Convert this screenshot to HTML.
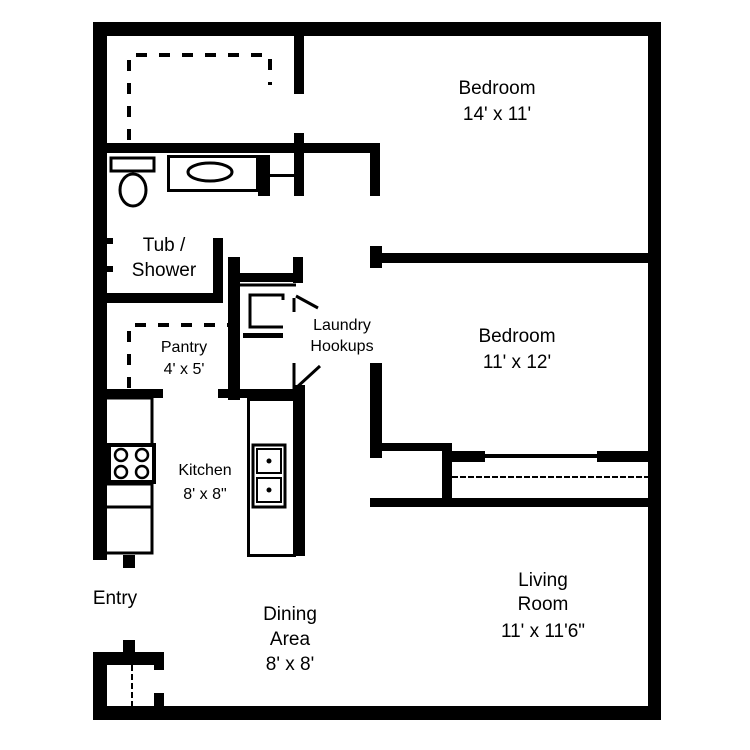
<!DOCTYPE html>
<html><head><meta charset="utf-8"><style>
html,body{margin:0;padding:0;background:#fff}
svg{display:block}
text{font-family:"Liberation Sans",sans-serif;fill:#000;text-anchor:middle}
</style></head><body>
<svg width="750" height="750" viewBox="0 0 750 750" xmlns="http://www.w3.org/2000/svg">
<g fill="#000">
<rect x="93" y="22" width="568" height="14"/>
<rect x="93" y="22" width="14" height="538"/>
<rect x="123" y="555" width="12" height="13"/>
<rect x="648" y="22" width="13" height="698"/>
<rect x="93" y="706" width="568" height="14"/>
<rect x="93" y="652" width="14" height="68"/>
<rect x="93" y="652" width="70" height="13"/>
<rect x="123" y="640" width="12" height="14"/>
<rect x="154" y="652" width="10" height="18"/>
<rect x="154" y="693" width="10" height="15"/>
<rect x="294" y="35" width="10" height="59"/>
<rect x="294" y="133" width="10" height="63"/>
<rect x="107" y="143" width="273" height="10"/>
<rect x="370" y="143" width="10" height="53"/>
<rect x="258" y="155" width="12" height="41"/>
<rect x="270" y="174" width="24" height="3"/>
<rect x="107" y="238" width="6" height="6"/>
<rect x="107" y="266" width="6" height="6"/>
<rect x="213" y="238" width="10" height="62"/>
<rect x="107" y="293" width="116" height="10"/>
<rect x="228" y="257" width="12" height="143"/>
<rect x="233" y="273" width="70" height="9"/>
<rect x="293" y="257" width="10" height="26"/>
<rect x="243" y="333" width="40" height="5"/>
<rect x="107" y="389" width="56" height="9"/>
<rect x="218" y="389" width="87" height="9"/>
<rect x="295" y="385" width="10" height="171"/>
<rect x="370" y="246" width="12" height="22"/>
<rect x="382" y="253" width="268" height="10"/>
<rect x="370" y="363" width="12" height="95"/>
<rect x="380" y="443" width="70" height="8"/>
<rect x="442" y="443" width="10" height="57"/>
<rect x="370" y="498" width="280" height="9"/>
<rect x="452" y="451" width="33" height="11"/>
<rect x="597" y="451" width="53" height="11"/>
<rect x="485" y="454" width="112" height="4"/>
</g>
<g fill="none" stroke="#000">
<path d="M129 140V55H270V85" stroke-width="4" stroke-dasharray="11 12"/>
<rect x="168.5" y="156.5" width="89" height="34" stroke-width="3"/>
<ellipse cx="210" cy="172" rx="22" ry="9" stroke-width="3"/>
<rect x="111" y="158" width="43" height="13" stroke-width="3"/>
<ellipse cx="133" cy="190" rx="13" ry="16" stroke-width="3"/>
<path d="M129 388V325H228" stroke-width="4" stroke-dasharray="11 12"/>
<path d="M283 300V295H250V327H283" stroke-width="3"/>
<path d="M240 285H296" stroke-width="3"/>
<path d="M294 298V312M296 296L318 308M294 363V390M296 388L320 366" stroke-width="3"/>
<path d="M107 398H152V553H107M107 484H152M107 507H152" stroke-width="3"/>
<rect x="109" y="445" width="45" height="37" stroke-width="4" fill="#fff"/>
<g stroke-width="2.5"><circle cx="121" cy="455" r="6"/><circle cx="142" cy="455" r="6"/><circle cx="121" cy="472" r="6"/><circle cx="142" cy="472" r="6"/></g>
<rect x="248.5" y="399.5" width="46" height="156" stroke-width="3"/>
<rect x="253" y="445" width="32" height="62" stroke-width="3"/>
<rect x="257" y="449" width="24" height="24" stroke-width="2"/>
<rect x="257" y="478" width="24" height="24" stroke-width="2"/>
<path d="M452 477H648" stroke-width="2" stroke-dasharray="6 2"/>
<path d="M132 665V706" stroke-width="2" stroke-dasharray="6 3"/>
</g>
<circle cx="269" cy="461" r="2.5"/><circle cx="269" cy="490" r="2.5"/>
<g font-size="19">
<text x="497" y="94">Bedroom</text><text x="497" y="120">14' x 11'</text>
<text x="517" y="342">Bedroom</text><text x="517" y="368">11' x 12'</text>
<text x="543" y="586">Living</text><text x="543" y="610">Room</text><text x="543" y="637">11' x 11'6"</text>
<text x="290" y="620">Dining</text><text x="290" y="645">Area</text><text x="290" y="670">8' x 8'</text>
<text x="164" y="251">Tub /</text><text x="164" y="276">Shower</text>
<text x="115" y="604">Entry</text>
</g>
<g font-size="16">
<text x="342" y="330">Laundry</text><text x="342" y="351">Hookups</text>
<text x="184" y="352">Pantry</text><text x="184" y="374">4' x 5'</text>
<text x="205" y="475">Kitchen</text><text x="205" y="499">8' x 8"</text>
</g>
</svg>
</body></html>
